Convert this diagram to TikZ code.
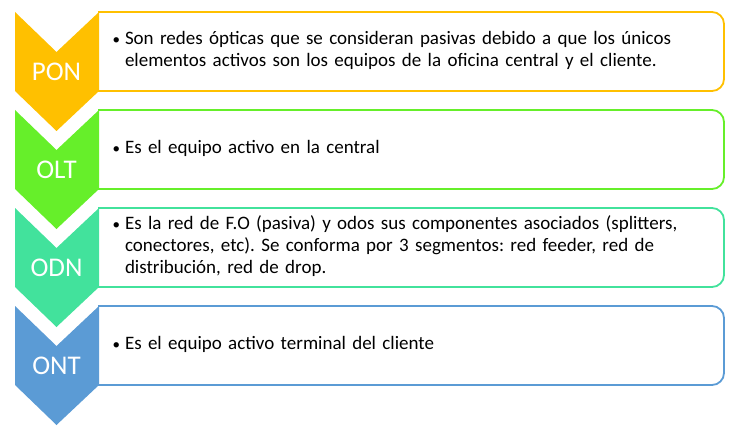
\documentclass[tikz,border=0pt]{standalone}
\usepackage{fontspec}
\setmainfont{Carlito}
\usepackage{tikz}
\usetikzlibrary{positioning}
\definecolor{ponc}{HTML}{FFC000}
\definecolor{oltc}{HTML}{66EF2A}
\definecolor{odnc}{HTML}{42E29C}
\definecolor{ontc}{HTML}{5B9BD5}
\tikzset{infobox/.style={rectangle,draw=none,outer sep=0pt,
inner xsep=14pt,inner ysep=0pt,minimum height=79pt,text width=598pt,
align=left,font=\fontsize{19}{22}\selectfont\frenchspacing}}
\tikzset{boxline/.style={line width=1.8pt,rounded corners=12pt}}
\tikzset{chevlabel/.style={text=white,inner sep=0pt,
font=\fontsize{27}{30}\selectfont}}
\newcommand{\bul}{\makebox[13pt][l]{\hspace{0.5pt}{\fontsize{15}{22}\selectfont\textbullet}}}

\begin{document}
\begin{tikzpicture}[x=1pt,y=1pt]
    \useasboundingbox (0,0) rectangle (745,-428);

        \node[infobox,anchor=north west] (boxPON) at (98,-12)
            {\bul\begin{tabular}[t]{@{}l@{}}Son redes ópticas que se consideran pasivas debido a que los únicos\\elementos activos son los equipos de la oficina central y el cliente.\end{tabular}};
        \node[infobox] (boxOLT) [below=19pt of boxPON]
            {\bul\begin{tabular}[t]{@{}l@{}}Es el equipo activo en la central\end{tabular}};
        \node[infobox] (boxODN) [below=19pt of boxOLT]
            {\bul\begin{tabular}[t]{@{}l@{}}Es la red de F.O (pasiva) y odos sus componentes asociados (splitters,\\conectores, etc). Se conforma por 3 segmentos: red feeder, red de\\distribución, red de drop.\end{tabular}};
        \node[infobox] (boxONT) [below=19pt of boxODN]
            {\bul\begin{tabular}[t]{@{}l@{}}Es el equipo activo terminal del cliente\end{tabular}};

        \draw[ponc,boxline] (boxPON.north west) -- (boxPON.north east) -- (boxPON.south east) -- (boxPON.south west);
        \fill[ponc] ([xshift=-83pt]boxPON.north west) -- ([xshift=-41.5pt,yshift=-40pt]boxPON.north west) -- ([xshift=1pt]boxPON.north west)
            -- ([xshift=1pt]boxPON.south west) -- ([xshift=-41.5pt,yshift=-40pt]boxPON.south west) -- ([xshift=-83pt]boxPON.south west) -- cycle;
        \node[chevlabel] (labPON) at ([xshift=-41.5pt,yshift=-20pt]boxPON.west) {PON};

        \draw[oltc,boxline] (boxOLT.north west) -- (boxOLT.north east) -- (boxOLT.south east) -- (boxOLT.south west);
        \fill[oltc] ([xshift=-83pt]boxOLT.north west) -- ([xshift=-41.5pt,yshift=-40pt]boxOLT.north west) -- ([xshift=1pt]boxOLT.north west)
            -- ([xshift=1pt]boxOLT.south west) -- ([xshift=-41.5pt,yshift=-40pt]boxOLT.south west) -- ([xshift=-83pt]boxOLT.south west) -- cycle;
        \node[chevlabel] (labOLT) at ([xshift=-41.5pt,yshift=-20pt]boxOLT.west) {OLT};

        \draw[odnc,boxline] (boxODN.north west) -- (boxODN.north east) -- (boxODN.south east) -- (boxODN.south west);
        \fill[odnc] ([xshift=-83pt]boxODN.north west) -- ([xshift=-41.5pt,yshift=-40pt]boxODN.north west) -- ([xshift=1pt]boxODN.north west)
            -- ([xshift=1pt]boxODN.south west) -- ([xshift=-41.5pt,yshift=-40pt]boxODN.south west) -- ([xshift=-83pt]boxODN.south west) -- cycle;
        \node[chevlabel] (labODN) at ([xshift=-41.5pt,yshift=-20pt]boxODN.west) {ODN};

        \draw[ontc,boxline] (boxONT.north west) -- (boxONT.north east) -- (boxONT.south east) -- (boxONT.south west);
        \fill[ontc] ([xshift=-83pt]boxONT.north west) -- ([xshift=-41.5pt,yshift=-40pt]boxONT.north west) -- ([xshift=1pt]boxONT.north west)
            -- ([xshift=1pt]boxONT.south west) -- ([xshift=-41.5pt,yshift=-40pt]boxONT.south west) -- ([xshift=-83pt]boxONT.south west) -- cycle;
        \node[chevlabel] (labONT) at ([xshift=-41.5pt,yshift=-20pt]boxONT.west) {ONT};

    \end{tikzpicture}
\end{document}
